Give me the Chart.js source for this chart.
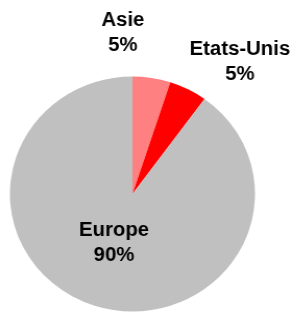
<!DOCTYPE html>
<html><head><meta charset="utf-8">
<script src="https://cdn.jsdelivr.net/npm/chart.js@4"></script>
<style>html,body{margin:0;padding:0;background:#fff}#c{display:block}</style>
</head><body>
<canvas id="c" width="280" height="312" style="width:292px;height:312px"></canvas>
<script>
const categories = ["Asie", "Etats-Unis", "Europe"];
const shares = [5, 5, 90];
const percentLabels = ["5%", "5%", "90%"];

const colors = ["#FF8080", "#FF0000", "#C0C0C0"];
// label block centre, relative to pie centre, in units of the radius
const labelOffsets = [[-0.078, -1.366], [0.877, -1.123], [-0.15, 0.417]];

const labelPlugin = {
  id: 'sliceLabels',
  afterDatasetsDraw(chart) {
    const ctx = chart.ctx;
    const meta = chart.getDatasetMeta(0);
    ctx.save();
    ctx.font = 'bold 19.5px "Liberation Sans", Arial, sans-serif';
    ctx.fillStyle = '#000';
    ctx.textAlign = 'center';
    ctx.textBaseline = 'middle';
    meta.data.forEach((arc, i) => {
      const r = arc.outerRadius;
      const x = arc.x + labelOffsets[i][0] * r;
      const y = arc.y + labelOffsets[i][1] * r;
      ctx.fillText(categories[i], x, y - 12.5);
      ctx.fillText(percentLabels[i], x, y + 12.5);
    });
    ctx.restore();
  }
};

new Chart(document.getElementById('c'), {
  type: 'pie',
  data: {
    labels: categories,
    datasets: [{
      data: shares,
      backgroundColor: colors,
      borderWidth: 0,
      radius: 117.5
    }]
  },
  options: {
    responsive: false,
    animation: false,
    devicePixelRatio: 1,
    layout: { padding: { left: 0, right: 26, top: 76, bottom: 0 } },
    plugins: { legend: { display: false }, tooltip: { enabled: false } }
  },
  plugins: [labelPlugin]
});
</script>
</body></html>
